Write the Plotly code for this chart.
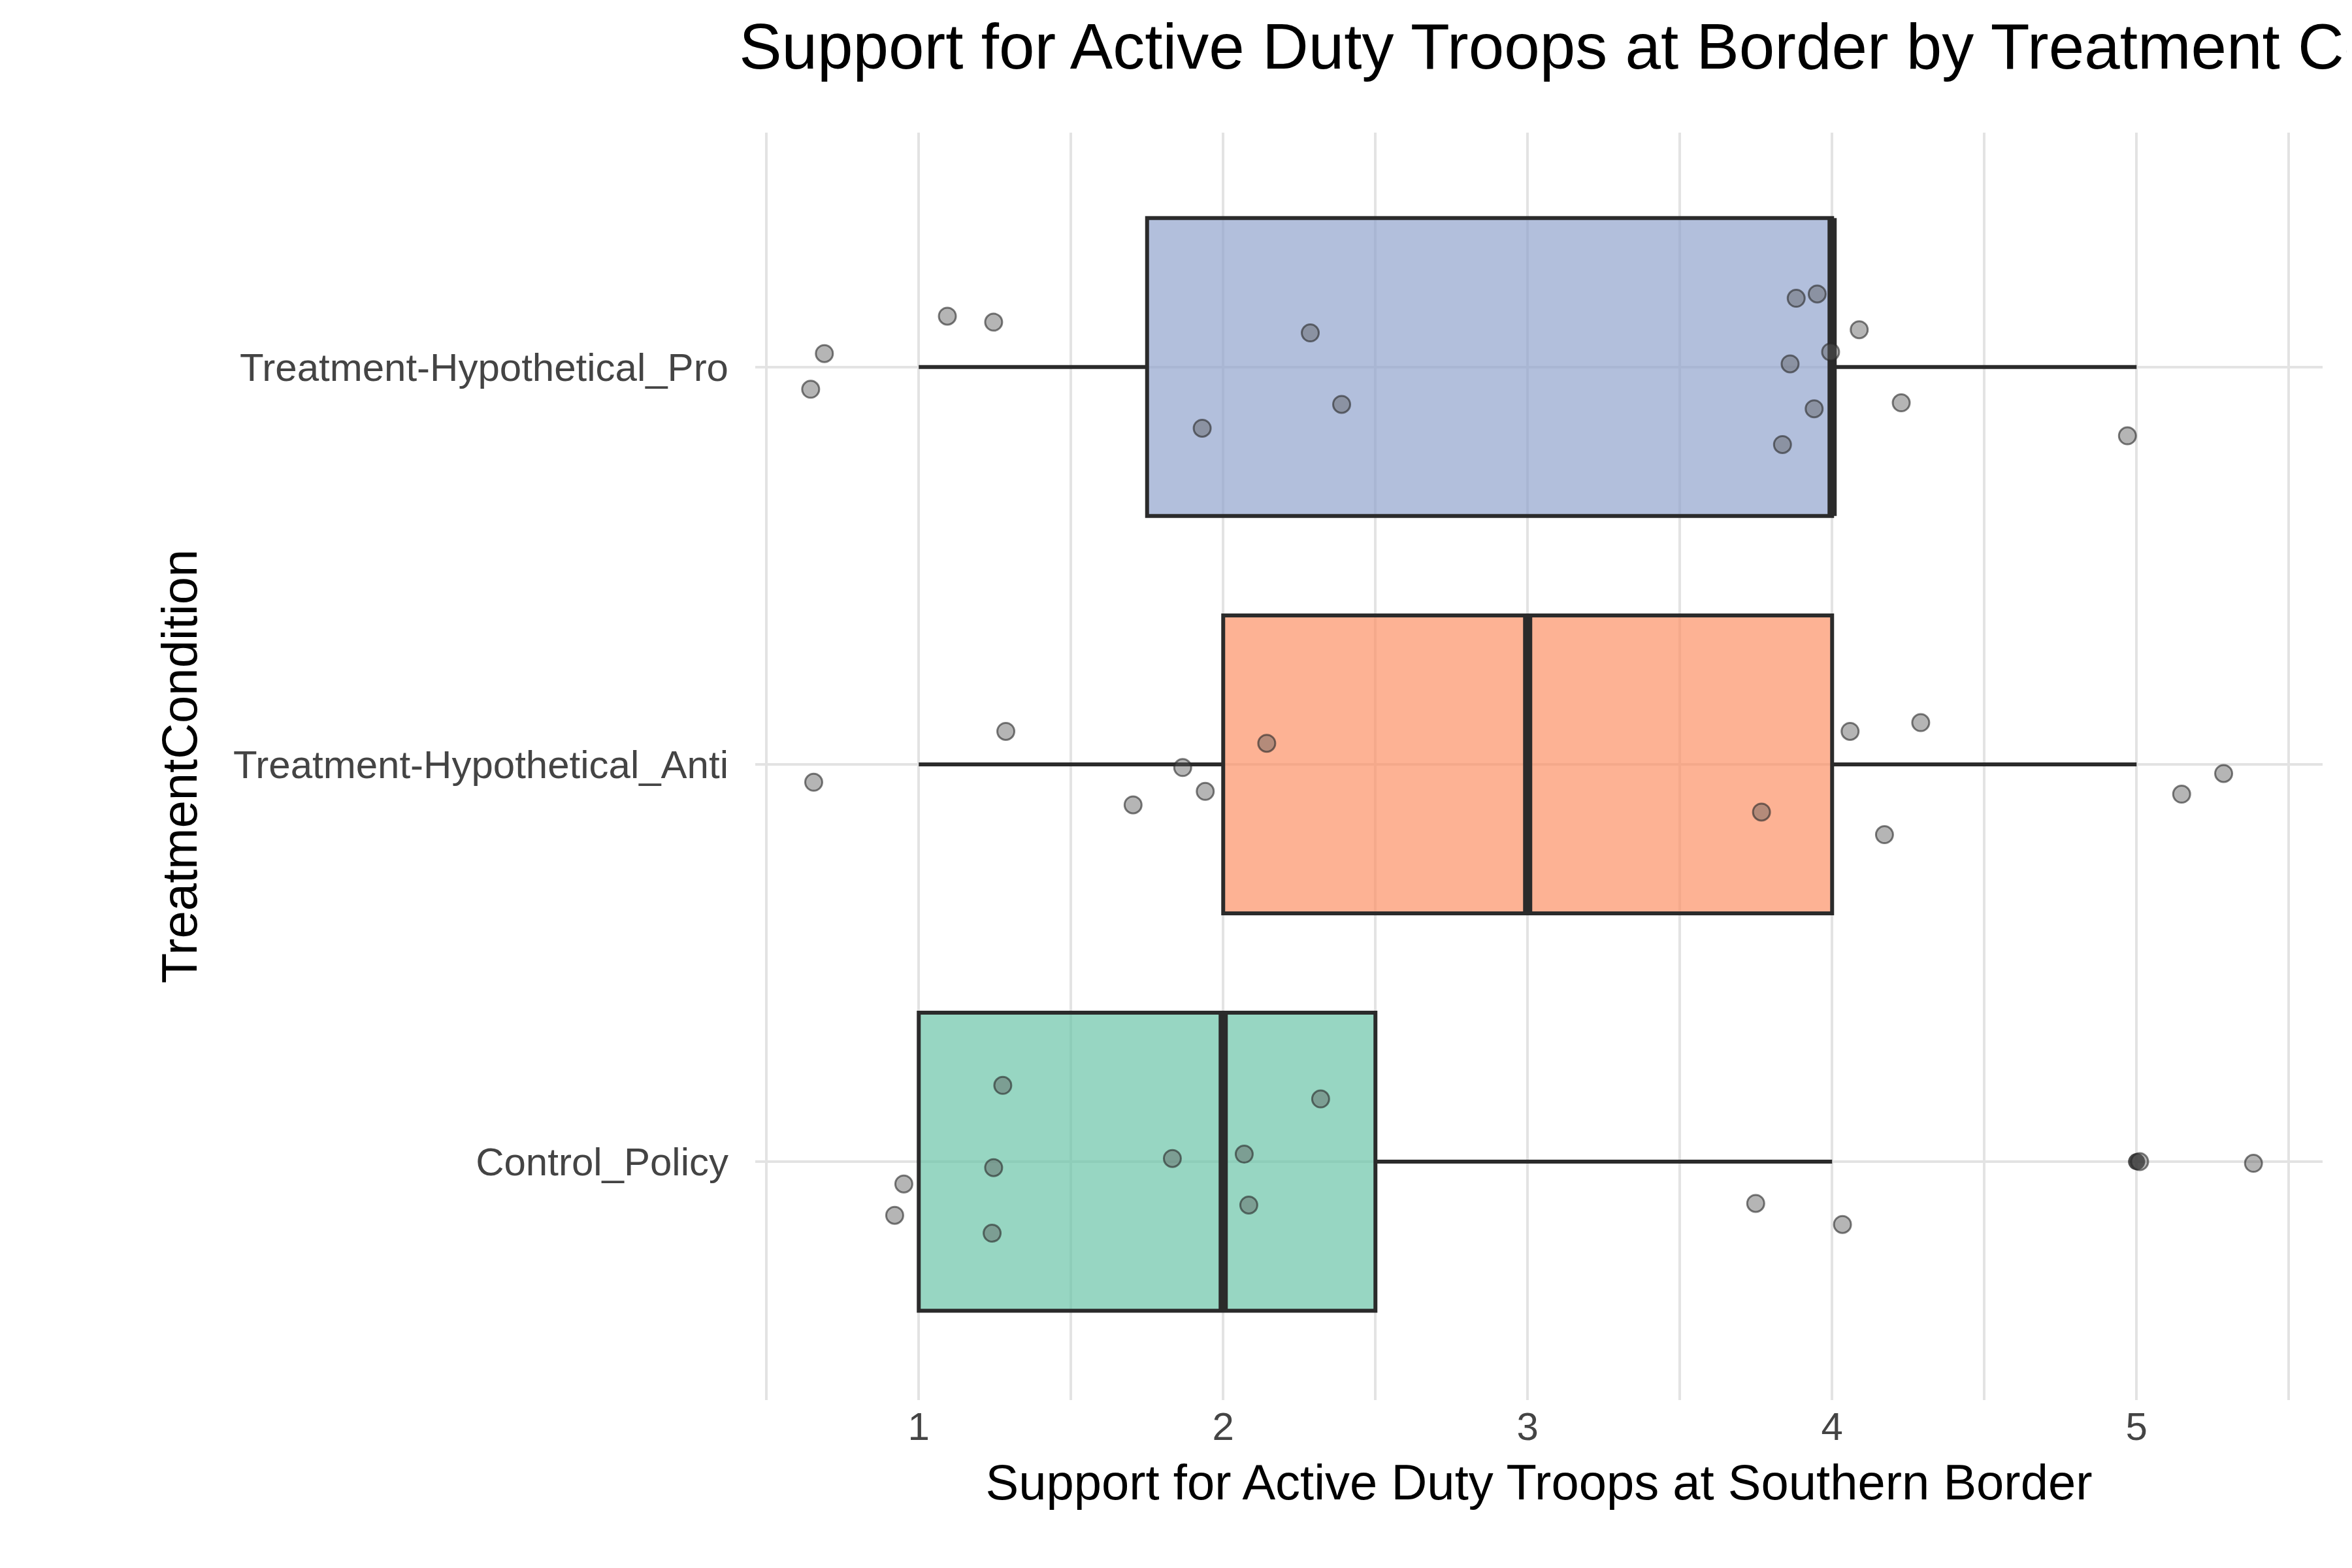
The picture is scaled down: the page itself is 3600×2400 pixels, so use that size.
import plotly.graph_objects as go

# categories (bottom to top)
groups = ["Control_Policy", "Treatment-Hypothetical_Anti", "Treatment-Hypothetical_Pro"]
colors = ["rgba(102,194,165,0.68)", "rgba(252,141,98,0.68)", "rgba(141,160,203,0.68)"]

# box stats
q1 = [1, 2, 1.75]
median = [2, 3, 4]
q3 = [2.5, 4, 4]
lower = [1, 1, 1]
upper = [4, 5, 5]
outlier_x = [5.0]
outlier_group = [0]

# jittered points: x value and vertical jitter
pro_x = [1.094, 1.246, 0.69, 0.645, 2.286, 2.389, 1.931, 3.882, 3.951, 4.089, 3.995, 3.862, 4.227, 3.941, 3.837, 4.970]
pro_j = [0.128, 0.113, 0.034, -0.056, 0.086, -0.094, -0.154, 0.173, 0.184, 0.094, 0.038, 0.008, -0.090, -0.105, -0.195, -0.173]
anti_x = [1.286, 0.655, 1.867, 1.941, 1.704, 2.143, 4.059, 4.291, 3.768, 4.172, 5.148, 5.286]
anti_j = [0.083, -0.045, -0.008, -0.068, -0.102, 0.053, 0.083, 0.105, -0.120, -0.177, -0.075, -0.023]
ctrl_x = [1.276, 0.951, 1.246, 0.921, 1.241, 1.833, 2.069, 2.084, 2.320, 3.749, 4.034, 5.384, 5.010]
ctrl_j = [0.192, -0.056, -0.015, -0.135, -0.180, 0.008, 0.019, -0.109, 0.158, -0.105, -0.158, -0.004, 0.0]

x_ticks = [0.5, 1, 1.5, 2, 2.5, 3, 3.5, 4, 4.5, 5, 5.5]
x_labels = ["", "1", "", "2", "", "3", "", "4", "", "5", ""]

fig = go.Figure()
line_col = "#2b2b2b"
for i, g in enumerate(groups):
    fig.add_trace(go.Box(
        y=[i], orientation="h", q1=[q1[i]], median=[median[i]], q3=[q3[i]],
        lowerfence=[lower[i]], upperfence=[upper[i]], width=0.75,
        fillcolor=colors[i], line=dict(color=line_col, width=6),
        whiskerwidth=0, showlegend=False, boxpoints=False))
    # thick median
    fig.add_trace(go.Scatter(x=[median[i], median[i]], y=[i - 0.375, i + 0.375], mode="lines",
                             line=dict(color=line_col, width=14), showlegend=False))

fig.add_trace(go.Scatter(x=outlier_x, y=outlier_group, mode="markers",
                         marker=dict(color="black", size=26, opacity=0.7), showlegend=False))

for i, (xs, js) in enumerate([(ctrl_x, ctrl_j), (anti_x, anti_j), (pro_x, pro_j)]):
    fig.add_trace(go.Scatter(
        x=xs, y=[i + j for j in js], mode="markers", showlegend=False,
        marker=dict(color="rgba(90,90,90,0.45)", size=26,
                    line=dict(color="rgba(40,40,40,0.6)", width=3))))

fig.update_layout(
    width=3600, height=2400,
    paper_bgcolor="white", plot_bgcolor="white",
    font=dict(family="Liberation Sans, Arial, sans-serif", color="#222"),
    margin=dict(l=1148, r=53, t=195, b=265),
    title=dict(text="Support for Active Duty Troops at Border by Treatment Condition",
               x=0.312, xanchor="left", xref="container", y=0.988, yanchor="top",
               font=dict(size=98, color="black")),
)
fig.update_xaxes(range=[0.463, 5.611], tickvals=x_ticks, ticktext=x_labels,
                 showgrid=True, gridcolor="#e3e3e3", gridwidth=4, zeroline=False,
                 tickfont=dict(size=60, color="#444"), ticks="",
                 title=dict(text="Support for Active Duty Troops at Southern Border",
                            font=dict(size=76, color="black"), standoff=25))
fig.update_yaxes(range=[-0.6, 2.59], tickvals=[0, 1, 2], ticktext=groups,
                 showgrid=True, gridcolor="#e3e3e3", gridwidth=4, zeroline=False,
                 tickfont=dict(size=60, color="#444"), ticks="", ticklabelstandoff=40,
                 title=dict(text="TreatmentCondition", font=dict(size=76, color="black"), standoff=30))

fig.write_html("out.html")
